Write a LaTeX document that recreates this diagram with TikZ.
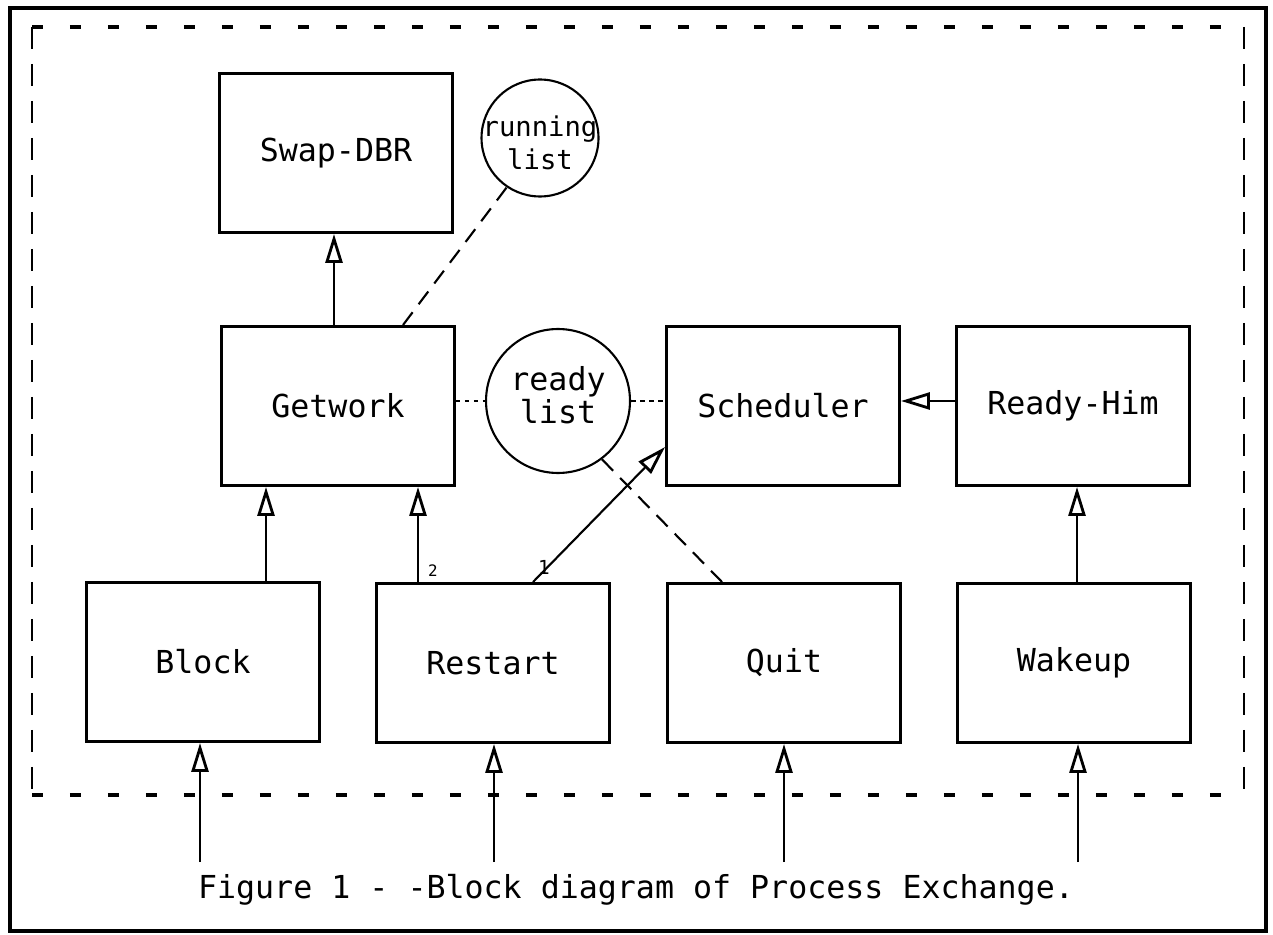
\documentclass[tikz,border=0pt]{standalone}
\usepackage{fontspec}
\setmainfont{DejaVu Sans Mono}
\usetikzlibrary{arrows.meta,calc}
\begin{document}
\begin{tikzpicture}[x=0.02cm,y=-0.02cm,
  font=\fontsize{18}{22}\selectfont,
  blk/.style={draw,line width=1.7pt,minimum width=4.66cm,minimum height=3.18cm,inner sep=0pt},
  lst/.style={draw,circle,line width=1.2pt,inner sep=0pt},
  lsttxt/.style={inner sep=0pt,align=center,font=\fontsize{18}{18.5}\selectfont},
  arr/.style={line width=1.2pt,-{Triangle[open,length=0.58cm,width=0.34cm,line width=1.6pt]}},
  dsh/.style={line width=1.2pt,dash pattern=on 0.32cm off 0.2cm},
  dtt/.style={line width=1.1pt,dash pattern=on 0.09cm off 0.09cm},
  hdash/.style={line width=1.8pt,dash pattern=on 0.22cm off 0.54cm},
  vdash/.style={line width=1.6pt,dash pattern=on 0.44cm off 0.3cm}]
\useasboundingbox (0,0) rectangle (1273,935);
% outer frame
\draw[line width=2pt] (10,8) rectangle (1266,931);
% inner dashed boundary
\coordinate (c1) at (32,27);
\coordinate (c2) at (1244,27);
\coordinate (c3) at (1244,795);
\coordinate (c4) at (32,795);
\draw[hdash] (c1) -- (c2);
\draw[hdash] (c4) -- (c3);
\draw[vdash] (c1) -- (c4);
\draw[vdash] (c2) -- (c3);
% blocks
\node[blk] (swap) at (336,153) {Swap-DBR};
\node[blk] (getwork) at (338,406) {Getwork};
\node[blk] (sched) at (783,406) {Scheduler};
\node[blk] (readyhim) at (1073,406) {Ready-Him};
\node[blk] (block) at (203,662) {Block};
\node[blk] (restart) at (493,663) {Restart};
\node[blk] (quit) at (784,663) {Quit};
\node[blk] (wakeup) at (1074,663) {Wakeup};
% lists
\node[lst,minimum size=2.34cm] (running) at (540,138) {};
\node[lsttxt,font=\fontsize{15.5}{19}\selectfont] (runningtxt) at ($(running.center)+(0,5)$) {running\\list};
\node[lst,minimum size=2.88cm] (ready) at (558,401) {};
\node[lsttxt] (readytxt) at ($(ready.center)+(0,-6)$) {ready\\list};
% helper x positions
\coordinate (x266) at (266,0);
\coordinate (x334) at (334,0);
\coordinate (x403) at (403,0);
\coordinate (x418) at (418,0);
\coordinate (x533) at (533,0);
\coordinate (x722) at (722,0);
\coordinate (x1077) at (1077,0);
\coordinate (y447) at (0,447);
% connectors
\draw[arr] (getwork.north -| x334) -- (swap.south -| x334);
\draw[arr] (block.north -| x266) -- (getwork.south -| x266);
\draw[arr] (restart.north -| x418) -- (getwork.south -| x418);
\draw[arr] (restart.north -| x533) -- (sched.west |- y447);
\draw[arr] (readyhim.west |- ready.center) -- (sched.east |- ready.center);
\draw[arr] (wakeup.north -| x1077) -- (readyhim.south -| x1077);
\draw[dtt] (ready.west -| getwork.east) -- (ready.west);
\draw[dtt] (ready.east) -- (ready.east -| sched.west);
\draw[dsh] (getwork.north -| x403) -- (running.236);
\draw[dsh] (ready.-53) -- (quit.north -| x722);
% labels on restart arrows
\node[font=\fontsize{9}{10}\selectfont] (lab2) at (433,571) {2};
\node[font=\fontsize{11}{12}\selectfont] (lab1) at (544,567) {1};
% inputs
\coordinate (i1) at (200,862);
\coordinate (i2) at (494,862);
\coordinate (i3) at (784,862);
\coordinate (i4) at (1078,862);
\draw[arr] (i1) -- (i1 |- block.south);
\draw[arr] (i2) -- (i2 |- restart.south);
\draw[arr] (i3) -- (i3 |- quit.south);
\draw[arr] (i4) -- (i4 |- wakeup.south);
% caption
\node (cap) at (636,890) {Figure 1 - -Block diagram of Process Exchange.};
\end{tikzpicture}
\end{document}
